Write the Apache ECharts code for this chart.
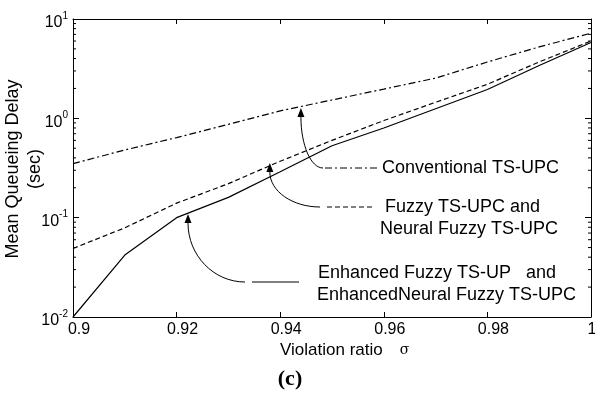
<!DOCTYPE html>
<html>
<head>
<meta charset="utf-8">
<script src="https://cdn.jsdelivr.net/npm/echarts@6/dist/echarts.min.js"></script>
<style>
  html, body { margin: 0; padding: 0; background: #fff; }
  #chart { width: 595px; height: 394px; }
</style>
</head>
<body>
<div id="chart"></div>
<script>
// violation ratio (x) and mean queueing delay in seconds (y, log scale)
const sigma = [0.9, 0.91, 0.92, 0.93, 0.94, 0.95, 0.96, 0.97, 0.98, 0.99, 1.0];
const conventional = [0.35, 0.48, 0.64, 0.87, 1.19, 1.53, 1.97, 2.54, 3.69, 5.24, 7.2];
const fuzzy = [0.049, 0.079, 0.14, 0.22, 0.37, 0.6, 0.95, 1.45, 2.2, 3.7, 6.0];
const enhanced = [0.01, 0.042, 0.1, 0.16, 0.29, 0.53, 0.8, 1.25, 1.95, 3.4, 5.8];

// minor ticks of the log axis
const minorTicks = [
  0.02, 0.03, 0.04, 0.05, 0.06, 0.07, 0.08, 0.09,
  0.2, 0.3, 0.4, 0.5, 0.6, 0.7, 0.8, 0.9,
  2, 3, 4, 5, 6, 7, 8, 9
];

// where each arrow points (data coords)
const arrowTips = {
  conventional: [0.944, 1.27],
  fuzzy: [0.938, 0.355],
  enhanced: [0.9222, 0.109]
};

const FONT = '"Liberation Sans", Arial, sans-serif';
const DASH = [5, 3];
const DASHDOT = [7, 3, 2, 3];

const chart = echarts.init(document.getElementById('chart'));

const pairs = (ys) => sigma.map((x, i) => [x, ys[i]]);

const lineSeries = (name, ys, dash) => ({
  name,
  type: 'line',
  data: pairs(ys),
  showSymbol: false,
  silent: true,
  lineStyle: { color: '#000', width: 1.2, type: dash || 'solid' },
  z: 3
});

const option = {
  animation: false,
  backgroundColor: '#fff',
  grid: { left: 73, right: 4, top: 19, bottom: 77, containLabel: false, outerBoundsMode: 'none' },
  xAxis: [
    {
      type: 'value',
      min: 0.9,
      max: 1,
      interval: 0.02,
      axisLine: { lineStyle: { color: '#000', width: 1 } },
      axisTick: { inside: true, length: 5, lineStyle: { color: '#000' } },
      axisLabel: {
        color: '#000', fontFamily: FONT, margin: 5,
        showMinLabel: true, showMaxLabel: true,
        formatter: (v) => (v === 1 ? '{e|1}' : '{p|' + v + '}'),
        rich: {
          p: { fontSize: 16, fontFamily: FONT, color: '#000', padding: [0, 0, 0, 12] },
          e: { fontSize: 16, fontFamily: FONT, color: '#000', padding: [0, 0, 0, 2] }
        }
      },
      splitLine: { show: false }
    },
    {
      type: 'value',
      position: 'top',
      min: 0.9,
      max: 1,
      interval: 0.02,
      axisLine: { lineStyle: { color: '#000', width: 1 } },
      axisTick: { inside: true, length: 5, lineStyle: { color: '#000' } },
      axisLabel: { show: false },
      splitLine: { show: false }
    }
  ],
  yAxis: [
    {
      type: 'log',
      logBase: 10,
      min: 0.01,
      max: 10,
      axisLine: { show: true, lineStyle: { color: '#000', width: 1 } },
      axisTick: { show: true, inside: true, length: 6, lineStyle: { color: '#000' } },
      axisLabel: {
        color: '#000', fontFamily: FONT, margin: 5,
        formatter: (v) => '{b|10}{s|' + Math.round(Math.log10(v)) + '}',
        rich: {
          b: { fontSize: 16, fontFamily: FONT, color: '#000', padding: [8, 0, 0, 0] },
          s: { fontSize: 10, fontFamily: FONT, color: '#000', padding: [0, 0, 6, 0] }
        }
      },
      splitLine: { show: false }
    },
    {
      type: 'log',
      logBase: 10,
      min: 0.01,
      max: 10,
      position: 'right',
      axisLine: { show: true, lineStyle: { color: '#000', width: 1 } },
      axisTick: { show: true, inside: true, length: 6, lineStyle: { color: '#000' } },
      axisLabel: { show: false },
      splitLine: { show: false }
    }
  ],
  series: [
    lineSeries('Conventional TS-UPC', conventional, DASHDOT),
    lineSeries('Fuzzy TS-UPC', fuzzy, DASH),
    lineSeries('Enhanced Fuzzy TS-UPC', enhanced, 'solid'),
    {
      type: 'custom',
      silent: true,
      data: minorTicks.map((v) => [0.9, v]),
      encode: { x: 0, y: 1 },
      renderItem: (params, api) => {
        const v = api.value(1);
        const l = api.coord([0.9, v]);
        const r = api.coord([1.0, v]);
        return {
          type: 'group',
          children: [
            { type: 'line', shape: { x1: l[0], y1: l[1], x2: l[0] + 3, y2: l[1] }, style: { stroke: '#000', lineWidth: 1 } },
            { type: 'line', shape: { x1: r[0], y1: r[1], x2: r[0] - 3, y2: r[1] }, style: { stroke: '#000', lineWidth: 1 } }
          ]
        };
      }
    }
  ]
};

chart.setOption(option);

// annotation: arrow from tip, curving down to a line sample and text
function arrow(tip, end) {
  const headH = 9, headW = 3.5;
  const sx = tip[0], sy = tip[1] + headH;
  const w = end[0] - sx, h = end[1] - sy;
  return [
    {
      type: 'polygon',
      shape: { points: [[tip[0], tip[1]], [tip[0] - headW, tip[1] + headH], [tip[0] + headW, tip[1] + headH]] },
      style: { fill: '#000' },
      z: 10
    },
    {
      type: 'bezierCurve',
      shape: {
        x1: sx, y1: sy,
        cpx1: sx, cpy1: sy + h * 0.55,
        cpx2: end[0] - w * 0.55, cpy2: end[1],
        x2: end[0], y2: end[1]
      },
      style: { stroke: '#000', lineWidth: 1, fill: null },
      z: 10
    }
  ];
}

function sample(x1, x2, y, dash) {
  return {
    type: 'line',
    shape: { x1, y1: y, x2, y2: y },
    style: { stroke: '#000', lineWidth: 1, lineDash: dash },
    z: 10
  };
}

function label(text, x, y, size, extra) {
  return {
    type: 'text',
    x, y,
    style: Object.assign({
      text, fill: '#000', font: (size || 18) + 'px ' + FONT,
      textAlign: 'left', textVerticalAlign: 'middle'
    }, extra || {}),
    z: 10
  };
}

const px = (p) => chart.convertToPixel({ xAxisIndex: 0, yAxisIndex: 0 }, p);

const graphics = [].concat(
  arrow(px(arrowTips.conventional), [323, 168]),
  [sample(325, 378, 168, DASHDOT), label('Conventional TS-UPC', 382, 168)],
  arrow(px(arrowTips.fuzzy), [320, 207]),
  [sample(327, 372, 207, DASH),
   label('Fuzzy TS-UPC and', 385, 207),
   label('Neural Fuzzy TS-UPC', 380, 229)],
  arrow(px(arrowTips.enhanced), [245, 282]),
  [sample(252, 299, 282, null),
   label('Enhanced Fuzzy TS-UP   and', 318, 273),
   label('EnhancedNeural Fuzzy TS-UPC', 317, 295)],
  [
    {
      type: 'text',
      x: 280, y: 350,
      style: {
        text: '{a|Violation ratio}{b|σ}',
        textAlign: 'left', textVerticalAlign: 'middle',
        rich: {
          a: { fontSize: 17, fontFamily: FONT, fill: '#000' },
          b: { fontSize: 14, fontFamily: '"DejaVu Serif", serif', fill: '#000', padding: [0, 0, 0, 17] }
        }
      }
    },
    {
      type: 'text',
      x: 290, y: 379,
      style: {
        text: '(c)', fill: '#000',
        font: 'bold 22px "Liberation Serif", "Times New Roman", serif',
        textAlign: 'center', textVerticalAlign: 'middle'
      }
    },
    {
      type: 'text',
      x: 24, y: 169,
      rotation: Math.PI / 2,
      style: {
        text: 'Mean Queueing Delay\n(sec)', fill: '#000',
        font: '18px ' + FONT, lineHeight: 22,
        textAlign: 'center', textVerticalAlign: 'middle'
      }
    }
  ]
);

chart.setOption({ graphic: graphics });
</script>
</body>
</html>
